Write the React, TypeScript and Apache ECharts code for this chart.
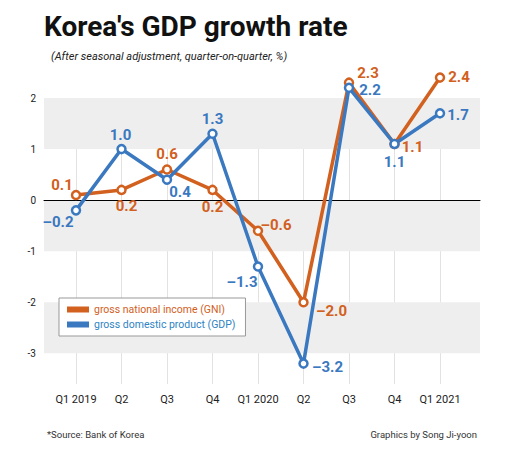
import React, { useEffect, useRef } from "react";
import * as echarts from "echarts";

const categories = ["Q1 2019", "Q2", "Q3", "Q4", "Q1 2020", "Q2", "Q3", "Q4", "Q1 2021"];
const gniValues = [0.1, 0.2, 0.6, 0.2, -0.6, -2.0, 2.3, 1.1, 2.4];
const gdpValues = [-0.2, 1.0, 0.4, 1.3, -1.3, -3.2, 2.2, 1.1, 1.7];
const yTickLabels = [-3, -2, -1, 0, 1, 2];
const bands: [number, number][] = [[1, 2], [-1, 0], [-3, -2]];

// label offsets (style only)
const gniOffsets = [[-14, -10], [5, 16], [0, -16], [0, 17], [18, -6], [28, 9], [19, -10], [18, 3], [19, -1]];
const gdpOffsets = [[-18, 12], [-1, -14], [13, 12], [0, -15], [-16, 15], [24, 3], [21, 2], [0, 18], [18, 2]];

const ORANGE = "#d2601e";
const BLUE = "#3a78c0";
const FONT = "Roboto";
const NARROW = "'Liberation Sans Narrow', Roboto";

export default function App() {
  const ref = useRef<HTMLDivElement>(null);
  useEffect(() => {
    document.body.style.margin = "0";
    const chart = echarts.init(ref.current!, null, { renderer: "svg" });
    const mk = (vals: number[], offs: number[][]) =>
      vals.map((v, i) => ({
        value: v,
        label: { offset: offs[i] },
      }));
    const lineSeries = (name: string, vals: number[], offs: number[][], color: string) => ({
      name,
      type: "line",
      xAxisIndex: 1,
      yAxisIndex: 1,
      data: mk(vals, offs),
      clip: false,
      symbol: "circle",
      symbolSize: 8,
      lineStyle: { color, width: 3.5 },
      itemStyle: { color: "#fff", borderColor: color, borderWidth: 2.5 },
      label: {
        show: true,
        position: "inside",
        formatter: (p: any) => p.value.toFixed(1).replace("-", "\u2013"),
        color,
        fontFamily: FONT,
        fontWeight: "bold",
        fontSize: 15,
      },
      emphasis: { disabled: true },
    });
    chart.setOption({
      animation: false,
      backgroundColor: "#fff",
      title: [
        {
          text: "Korea's GDP growth rate",
          left: 44,
          top: 12,
          textStyle: { fontFamily: FONT, fontWeight: "bold", fontSize: 28, color: "#111" },
          padding: 0,
        },
        {
          text: "(After seasonal adjustment, quarter-on-quarter, %)",
          left: 51,
          top: 51,
          padding: 0,
          textStyle: { fontFamily: FONT, fontStyle: "italic", fontWeight: "normal", fontSize: 11, color: "#222" },
        },
        {
          text: "*Source: Bank of Korea",
          left: 47,
          top: 429,
          padding: 0,
          textStyle: { fontFamily: FONT, fontWeight: "normal", fontSize: 9.5, color: "#333" },
        },
        {
          text: "Graphics by Song Ji-yoon",
          right: 33,
          top: 429,
          padding: 0,
          textStyle: { fontFamily: FONT, fontWeight: "normal", fontSize: 9.5, color: "#333" },
        },
      ],
      legend: {
        orient: "vertical",
        left: 59,
        top: 298,
        padding: [6, 10, 6, 8],
        itemGap: 4,
        itemWidth: 22,
        itemHeight: 6,
        icon: "rect",
        backgroundColor: "#fff",
        borderColor: "#999",
        borderWidth: 1,
        borderRadius: 0,
        textStyle: { fontFamily: FONT, fontSize: 10.5 },
        data: [
          {
            name: "gross national income (GNI)",
            icon: "rect",
            itemStyle: { color: ORANGE, borderWidth: 0 },
            lineStyle: { width: 0 },
            textStyle: { color: ORANGE },
          },
          {
            name: "gross domestic product (GDP)",
            icon: "rect",
            itemStyle: { color: BLUE, borderWidth: 0 },
            lineStyle: { width: 0 },
            textStyle: { color: "#2e84c4" },
          },
        ],
      },
      grid: [
        { left: 44, right: 30, top: 98, bottom: 66 },
        { left: 76, right: 70, top: 98, bottom: 66 },
      ],
      xAxis: [
        {
          type: "value",
          gridIndex: 0,
          min: 0,
          max: 1,
          z: 1.5,
          axisLine: { show: true, onZero: true, lineStyle: { color: "#000", width: 1 } },
          axisTick: { show: false },
          axisLabel: { show: false },
          splitLine: { show: false },
        },
        {
          type: "category",
          gridIndex: 1,
          data: categories,
          boundaryGap: false,
          z: 1,
          axisLine: { show: false },
          axisTick: { show: false },
          axisLabel: { interval: 0, color: "#222", fontFamily: NARROW, fontSize: 11, margin: 10 },
          splitLine: { show: true, interval: 0, lineStyle: { color: "#e2e2e2", width: 1 } },
        },
      ],
      yAxis: [
        {
          type: "value",
          gridIndex: 0,
          min: -3.6,
          max: 2,
          axisLine: { show: false },
          axisTick: { show: false },
          splitLine: { show: false },
          axisLabel: {
            customValues: yTickLabels,
            color: "#222",
            fontFamily: NARROW,
            fontSize: 10,
            margin: 8,
          },
        },
        {
          type: "value",
          gridIndex: 1,
          min: -3.6,
          max: 2,
          show: false,
          splitLine: { show: false },
        },
      ],
      series: [
        {
          type: "line",
          xAxisIndex: 0,
          yAxisIndex: 0,
          data: [],
          z: 0,
          silent: true,
          markArea: {
            silent: true,
            itemStyle: { color: "#eeeeee" },
            data: bands.map(([a, b]) => [{ yAxis: a }, { yAxis: b }]),
          },
        },
        lineSeries("gross national income (GNI)", gniValues, gniOffsets, ORANGE),
        lineSeries("gross domestic product (GDP)", gdpValues, gdpOffsets, BLUE),
      ],
    });
    return () => chart.dispose();
  }, []);
  return <div ref={ref} style={{ width: 510, height: 450 }} />;
}
